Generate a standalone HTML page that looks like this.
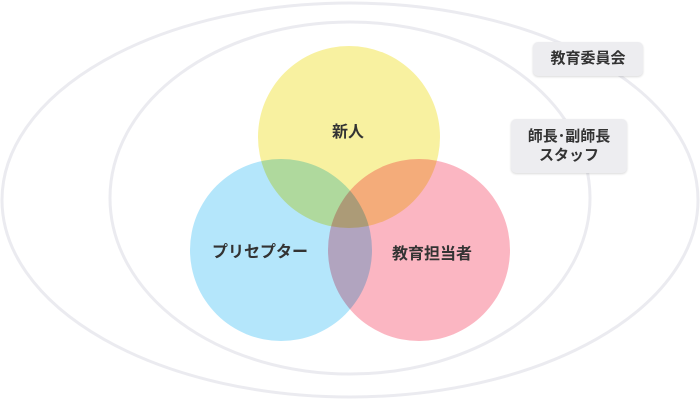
<!DOCTYPE html>
<html><head><meta charset="utf-8"><style>
html,body{margin:0;padding:0;background:#fff;}
body{width:700px;height:400px;position:relative;overflow:hidden;font-family:"Liberation Sans","Noto Sans CJK JP",sans-serif;}
svg{position:absolute;left:0;top:0;}
.box{position:absolute;background:#ededf0;border-radius:5px;box-shadow:0 1px 2px rgba(0,0,0,.15);color:#333;font-size:15px;font-weight:bold;text-align:center;line-height:19px;}
.lbl{position:absolute;font-size:16px;font-weight:bold;color:#333;white-space:nowrap;}
</style></head><body>
<svg width="700" height="400">
<ellipse cx="350" cy="200" rx="348" ry="197" fill="none" stroke="#ebebf0" stroke-width="3"/>
<ellipse cx="350" cy="198" rx="240" ry="176" fill="none" stroke="#ebebf0" stroke-width="3"/>
<g style="isolation:isolate">
<circle cx="349" cy="137" r="91" fill="#f8f1a0"/>
<circle cx="281" cy="250" r="91" fill="#b4e6fb" style="mix-blend-mode:multiply"/>
<circle cx="419" cy="250" r="91" fill="#fbb6c2" style="mix-blend-mode:multiply"/>
</g>
</svg>
<div class="box" style="left:533px;top:42px;width:110px;height:34px;line-height:34px;">教育委員会</div>
<div class="box" style="left:511px;top:119px;width:116px;height:54px;padding-top:8px;box-sizing:border-box;">師長･副師長<br>スタッフ</div>
<div class="lbl" style="left:332px;top:118px;">新人</div>
<div class="lbl" style="left:212px;top:238px;">プリセプター</div>
<div class="lbl" style="left:392px;top:240px;">教育担当者</div>
</body></html>
